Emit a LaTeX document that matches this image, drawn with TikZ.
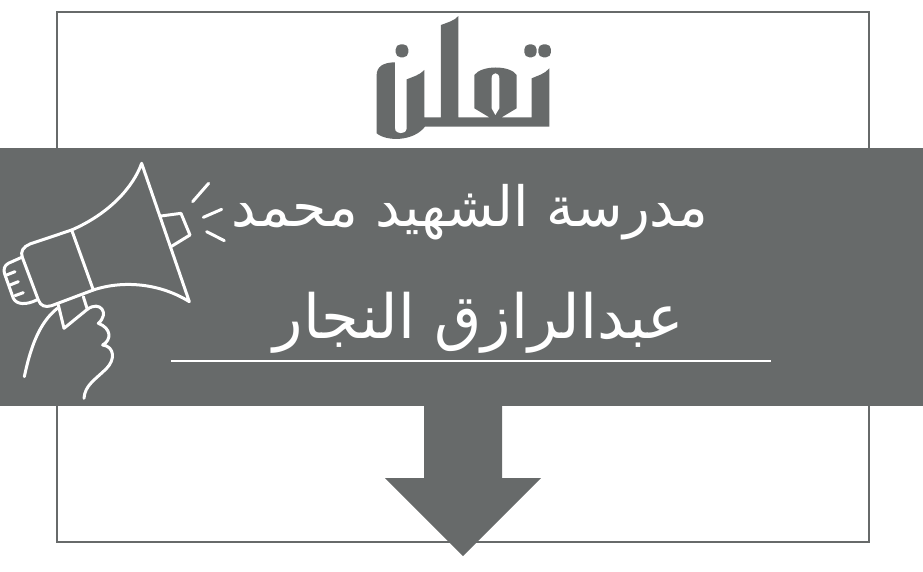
\documentclass[tikz,border=0pt]{standalone}
\usepackage{xcolor}
\usepackage{fontspec}
\usetikzlibrary{positioning}
\TeXXeTstate=1
\newfontfamily\arabicfont[Script=Arabic]{DejaVu Sans}
\definecolor{slate}{HTML}{676A6A}
\tikzset{
  banner/.style={font=\arabicfont\fontsize{#1}{60}\selectfont,text=white,inner sep=0pt},
  ink/.style={draw=white,line width=3pt,line cap=round,line join=round,fill=none},
  logo/.style={fill=slate,draw=none},
}
\begin{document}
\begin{tikzpicture}[x=1pt,y=-1pt]
  \useasboundingbox (0,0) rectangle (923,571);
  % frame and band
  \draw[slate,line width=2.6pt] (57,12) rectangle (869,542);
  \fill[slate] (0,148) rectangle (923,406);
  % down arrow
  \fill[slate] (424,406) -- (502,406) -- (502,478) -- (541,478) -- (463,556)
        -- (385,478) -- (424,478) -- cycle;
  % title
  \node[banner=55.5] (line1) at (470,212) {\beginR مدرسة الشهيد محمد\endR};
  \node[banner=61] (line2) at (479,323) {\beginR عبدالرازق النجار\endR};
  \draw[white,line width=1.2pt] (171,361) -- (771,361);
  % logo
  \begin{scope}[shift={(340,0)},x=0.3333pt,y=-0.3333pt]
    \fill[logo,rounded corners=5pt] (167,133) rectangle (205,172);
    \fill[logo,rounded corners=5pt] (553,133) rectangle (590,172);
    \fill[logo,rounded corners=5pt] (595,133) rectangle (633,172);
    \fill[logo] (165,187) .. controls (130,187) and (110,200) .. (110,225)
        -- (110,400) .. controls (140,425) and (220,425) .. (255,380)
        -- (628,380) -- (628,205) .. controls (615,222) and (590,228) .. (575,235)
        -- (575,352) -- (485,352) -- (530,325) -- (530,225)
        .. controls (510,195) and (425,195) .. (403,225) -- (403,325)
        -- (448,352) -- (355,352) -- (355,48)
        .. controls (345,62) and (320,68) .. (303,75) -- (303,352) -- (253,352)
        -- (253,210) .. controls (240,225) and (215,232) .. (200,238)
        -- (200,385) .. controls (200,405) and (165,405) .. (165,385) -- cycle;
    \fill[white] (455,235) .. controls (455,215) and (478,215) .. (478,235)
        -- (478,325) -- (466,345) -- (455,325) -- cycle;
  \end{scope}
  % megaphone
  \begin{scope}[shift={(0,150)},x=0.3333pt,y=-0.3333pt]
    \draw[ink] (215,240) .. controls (330,190) and (400,110) .. (425,40)
        -- (568,455) .. controls (480,400) and (370,390) .. (280,420) -- cycle;
    \draw[ink] (215,240) -- (90,282) .. controls (70,290) and (60,305) .. (67,322)
        -- (115,450) .. controls (122,468) and (135,473) .. (155,467) -- (280,420);
    \draw[ink] (65,322) -- (25,340) .. controls (12,347) and (10,360) .. (14,372)
        -- (40,445) .. controls (50,465) and (80,465) .. (110,450);
    \draw[ink] (20,375) -- (45,365) (30,405) -- (55,395) (45,437) -- (70,428);
    \draw[ink] (483,198) -- (543,190) -- (570,255) -- (513,290);
    \draw[ink] (578,155) -- (626,100) (610,202) -- (665,178) (620,245) -- (673,272);
    % hand
    \draw[ink] (175,465) -- (192,535) -- (262,478) -- (250,440);
    \draw[ink] (172,475) .. controls (115,520) and (90,600) .. (73,680);
    \draw[ink] (262,478) .. controls (300,450) and (330,490) .. (295,520)
        .. controls (335,535) and (335,570) .. (308,585)
        .. controls (345,590) and (345,630) .. (320,655)
        .. controls (285,690) and (255,705) .. (252,745);
  \end{scope}
\end{tikzpicture}
\end{document}
